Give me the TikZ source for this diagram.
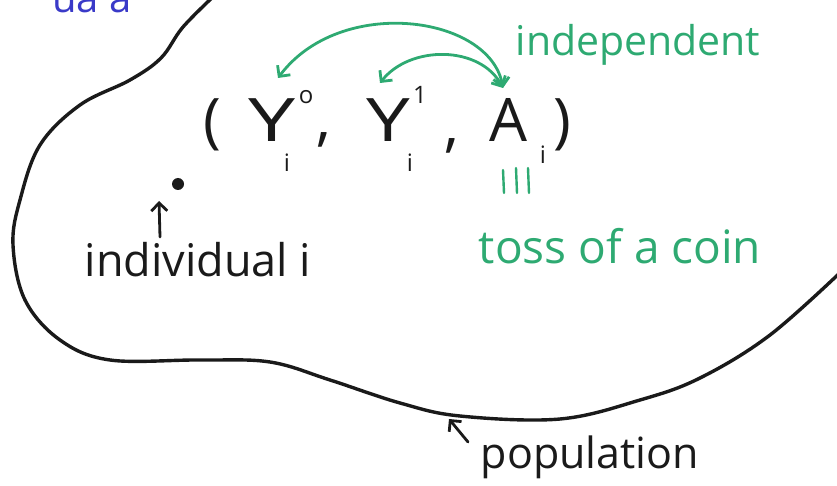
\documentclass[tikz,border=0pt]{standalone}
\usepackage{fontspec}
\setmainfont{Open Sans}
\usetikzlibrary{arrows.meta}
\definecolor{pen}{HTML}{1A1A1A}
\definecolor{ink}{HTML}{2EAA72}
\definecolor{blueink}{HTML}{3A3AC8}
\tikzset{
  outline/.style={draw=pen, line width=3.4pt, line cap=round, line join=round},
  gtxt/.style={text=ink, inner sep=0pt, anchor=base, font=\fontsize{42}{48}\selectfont},
  btxt/.style={text=pen, inner sep=0pt, anchor=base, font=\fontsize{42}{48}\selectfont},
  bigsym/.style={text=pen, inner sep=0pt, anchor=base, font=\fontsize{60}{66}\selectfont},
  smallsym/.style={text=pen, inner sep=0pt, anchor=base, font=\fontsize{24}{28}\selectfont},
  garrow/.style={draw=ink, line width=2.8pt, line cap=round,
    {Straight Barb[length=8pt,width=16pt]}-{Straight Barb[length=8pt,width=16pt]}},
  parrow/.style={draw=pen, line width=2.8pt, line cap=round,
    -{Straight Barb[length=8pt,width=16pt]}},
}
\begin{document}
\begin{tikzpicture}[x=1pt,y=-1pt]
\useasboundingbox (0,0) rectangle (837,486);
\clip (0,0) rectangle (837,486);
% cut-off blue text at top
\node[text=blueink, inner sep=0pt, anchor=base, font=\fontsize{40}{48}\selectfont] (blue) at (92,13) {ua a};
% population outline
\draw[outline] plot[smooth, tension=0.6] coordinates {
 (216,-6) (183,27) (161,58) (130,80) (80,105) (40,145) (20,200) (13,245)
 (25,300) (60,340) (110,360) (200,360) (270,362) (330,380) (400,403)
 (460,416) (560,419) (640,400) (700,378) (770,335) (845,268)};
% tuple
\node[bigsym] (lp) at (212,142) {(};
\node[bigsym, xscale=1.4] (y0) at (272,142) {Y};
\node[smallsym] (y0sup) at (306,104) {o};
\node[smallsym] (y0sub) at (287,172) {i};
\node[bigsym] (c1) at (324,140) {,};
\node[bigsym, xscale=1.3] (y1) at (388,142) {Y};
\node[smallsym] (y1sup) at (420,104) {1};
\node[smallsym] (y1sub) at (410,172) {i};
\node[bigsym] (c2) at (452,146) {,};
\node[bigsym] (a) at (508,142) {A};
\node[smallsym] (asub) at (543,164) {i};
\node[bigsym] (rp) at (562,142) {)};
\coordinate (aTop) at (503,88);
\coordinate (y0Top) at (278,78);
\coordinate (y1Top) at (380,83);
\draw[garrow] (aTop) .. controls (490,15) and (340,-5) .. (y0Top);
\draw[garrow] (aTop) .. controls (480,45) and (410,45) .. (y1Top);
% labels
\node[gtxt, font=\fontsize{41}{48}\selectfont] (indep) at (638,56) {independent};
\node[gtxt, font=\fontsize{46}{52}\selectfont] (toss) at (620,263) {toss of a coin};
\draw[draw=ink, line width=2.4pt, line cap=round] (503,170) -- (504,193) (516,168) -- (517,193) (528,168) -- (529,193);
% individual
\node[circle, fill=pen, inner sep=0pt, minimum size=12pt] (dot) at (178,184) {};
\node[btxt, font=\fontsize{45}{50}\selectfont] (indiv) at (198,276) {individual i};
\coordinate (indivArrow) at (160,237);
\draw[parrow] (indivArrow) -- (159,201);
% population
\node[btxt, font=\fontsize{43}{48}\selectfont] (pop) at (590,468) {population};
\coordinate (popArrow) at (468,442);
\draw[parrow] (popArrow) -- (449,419);
\end{tikzpicture}
\end{document}
